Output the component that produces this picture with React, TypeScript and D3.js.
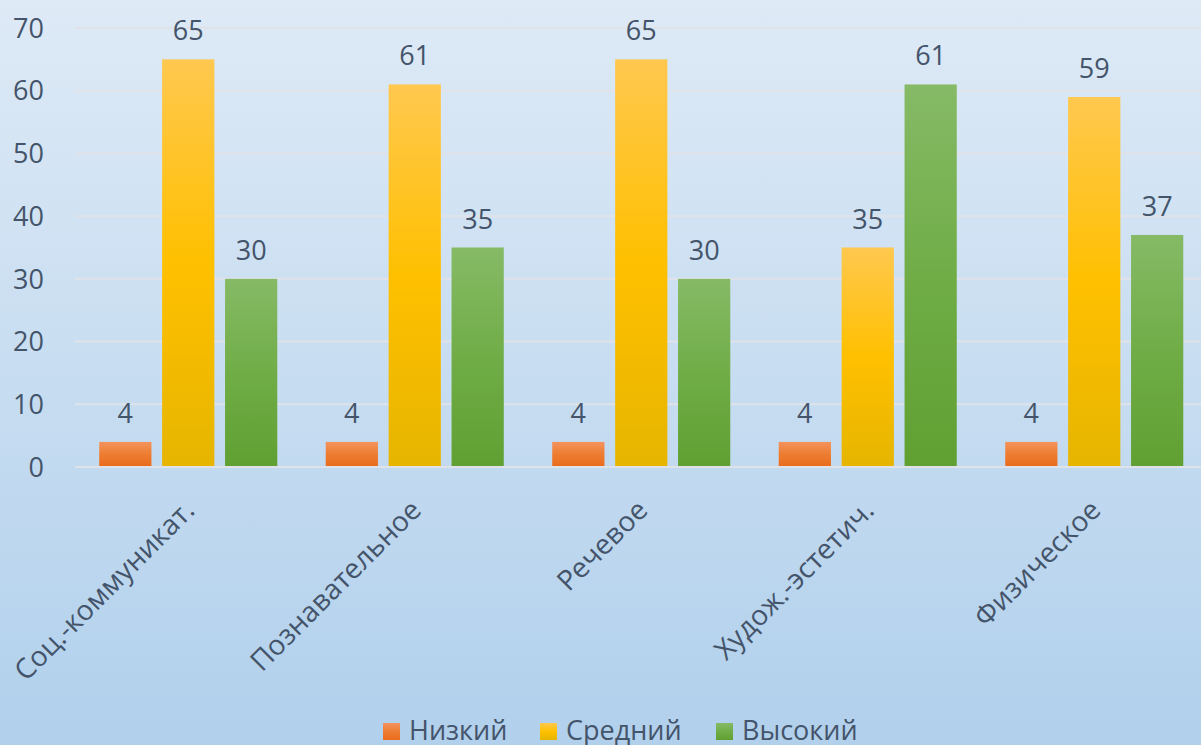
import React from "react";
import * as d3 from "d3";

const categories = ["Соц.-коммуникат.", "Познавательное", "Речевое", "Худож.-эстетич.", "Физическое"];
const seriesNames = ["Низкий", "Средний", "Высокий"];
const lowValues = [4, 4, 4, 4, 4];
const midValues = [65, 61, 65, 35, 59];
const highValues = [30, 35, 30, 61, 37];
const yTicks = [0, 10, 20, 30, 40, 50, 60, 70];

const W = 1201;
const H = 745;
const FONT = "'Open Sans', 'Noto Sans', sans-serif";
const TEXT = "#44546A";

const gradStops = [
  ["#F4935E", "#ED7D31", "#EA6B1D"],
  ["#FFC84F", "#FFC000", "#E6B500"],
  ["#86BA66", "#70AD47", "#60A032"],
];

export default function App() {
  const seriesValues = [lowValues, midValues, highValues];
  const x0 = d3.scaleBand<string>().domain(categories).range([75, 1207.5]).paddingInner(0.214).paddingOuter(0.107);
  const x1 = d3.scaleBand<string>().domain(seriesNames).range([0, x0.bandwidth()]).paddingInner(0.17);
  const y = d3.scaleLinear().domain([0, 70]).range([467, 28]);

  const legendX = [383, 540, 716];

  return (
    <>
      <style>{`body{margin:0}`}</style>
      <svg width={W} height={H} style={{ display: "block", fontFamily: FONT }}>
        <defs>
          <linearGradient id="bg" x1="0" y1="0" x2="0" y2="1">
            <stop offset="0" stopColor="#DEEAF6" />
            <stop offset="1" stopColor="#B1D0EC" />
          </linearGradient>
          {gradStops.map((s, i) => (
            <linearGradient key={i} id={`g${i}`} x1="0" y1="0" x2="0" y2="1">
              <stop offset="0" stopColor={s[0]} />
              <stop offset="0.5" stopColor={s[1]} />
              <stop offset="1" stopColor={s[2]} />
            </linearGradient>
          ))}
        </defs>
        <rect x={0} y={0} width={W} height={H} fill="url(#bg)" />
        {yTicks.map((t) => (
          <g key={t}>
            <line x1={75} x2={W} y1={y(t)} y2={y(t)} stroke="#DFE3E9" strokeWidth={2} />
            <text x={44} y={y(t)} dy="0.36em" textAnchor="end" fontSize={27} fill={TEXT}>
              {t}
            </text>
          </g>
        ))}
        {categories.map((c, ci) => (
          <g key={c} transform={`translate(${x0(c)},0)`}>
            {seriesNames.map((s, si) => {
              const v = seriesValues[si][ci];
              const bx = x1(s)!;
              const bw = x1.bandwidth();
              return (
                <g key={s}>
                  <rect x={bx} y={y(v)} width={bw} height={y(0) - y(v) - 1} fill={`url(#g${si})`} />
                  <text x={bx + bw / 2} y={y(v) - 19} textAnchor="middle" fontSize={27} fill={TEXT}>
                    {v}
                  </text>
                </g>
              );
            })}
          </g>
        ))}
        {categories.map((c) => {
          const cx = x0(c)! + x0.bandwidth() / 2 + 8;
          return (
            <text key={c} transform={`translate(${cx},512) rotate(-45)`} textAnchor="end" fontSize={28} fill={TEXT}>
              {c}
            </text>
          );
        })}
        {seriesNames.map((s, i) => (
          <g key={s}>
            <rect x={legendX[i]} y={723} width={17} height={17} fill={`url(#g${i})`} />
            <text x={legendX[i] + 26} y={740} fontSize={27} fill={TEXT}>
              {s}
            </text>
          </g>
        ))}
      </svg>
    </>
  );
}
